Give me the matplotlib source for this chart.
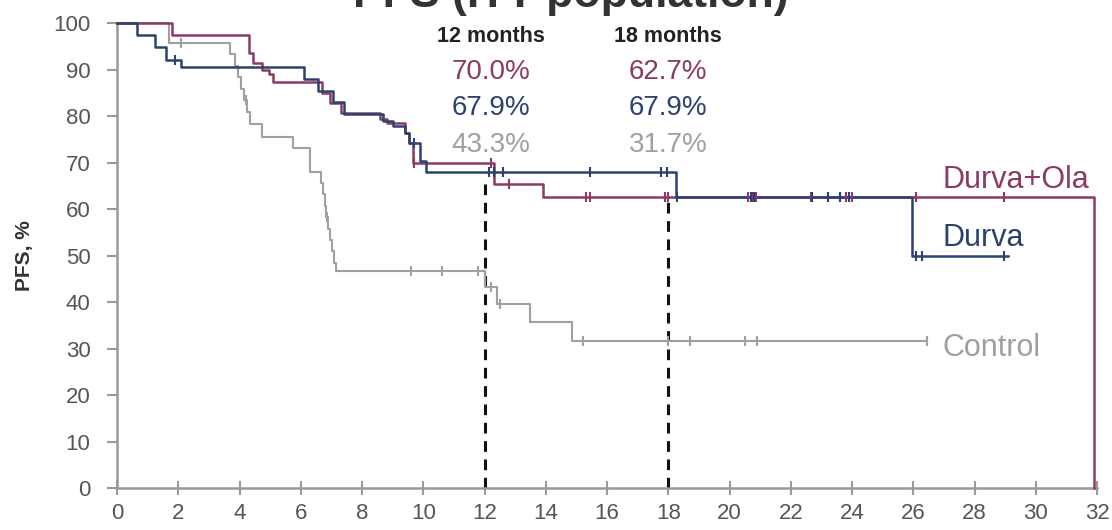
"""Kaplan-Meier style PFS plot: Durva+Ola vs Durva vs Control."""
import matplotlib
matplotlib.use("Agg")
import matplotlib.pyplot as plt
import numpy as np

# Step curves: time of each step (months) and PFS (%) after the step
ola_times = [0, 1.8, 4.32, 4.45, 4.75, 4.95, 5.1, 6.7, 6.95, 7.3, 8.6, 8.8, 9.4, 9.55, 9.65, 12.3, 13.9, 31.9]
ola_surv = [100, 97.5, 93.6, 91.5, 90.0, 89.0, 87.3, 85.0, 82.8, 80.6, 79.5, 78.5, 76.5, 74.2, 70.0, 65.5, 62.7, 0]
ola_end = 31.9
ola_cens = [9.7, 12.2, 12.8, 15.3, 15.45, 17.9, 18.0, 20.6, 20.75, 20.85, 22.65, 23.2, 23.6, 23.8, 24.0, 26.1, 28.95]

durva_times = [0, 0.65, 1.25, 1.6, 2.1, 6.1, 6.55, 7.05, 7.4, 8.7, 9.0, 9.4, 9.55, 9.9, 10.1, 18.25, 25.95]
durva_surv = [100, 97.4, 94.8, 92.2, 90.5, 88.0, 85.5, 83.0, 80.5, 79.0, 78.0, 76.5, 74.2, 70.3, 67.9, 62.7, 50.0]
durva_end = 29.1
durva_cens = [1.9, 9.7, 12.15, 12.3, 12.6, 15.45, 17.75, 17.95, 18.3, 20.7, 20.8, 22.7, 23.2, 23.6, 23.9, 26.1, 26.3, 28.95]

ctrl_times = [0, 1.7, 3.7, 3.85, 3.95, 4.05, 4.15, 4.25, 4.35, 4.75, 5.75, 6.3, 6.65, 6.72, 6.78, 6.84, 6.9,
              6.96, 7.02, 7.08, 7.15, 12.0, 12.4, 13.5, 14.85]
ctrl_surv = [100, 95.7, 93.3, 90.8, 88.4, 85.9, 83.5, 81.0, 78.3, 75.6, 73.1, 68.1, 65.6, 63.2, 60.7, 58.3, 55.8,
             53.4, 50.9, 48.5, 46.6, 43.3, 39.6, 35.8, 31.7]
ctrl_end = 26.45
ctrl_cens = [2.1, 4.2, 6.85, 9.6, 10.6, 11.8, 12.2, 12.5, 15.2, 18.0, 18.7, 20.5, 20.9, 26.45]

# Landmark rates
landmarks = [12, 18]
landmark_labels = ['12 months', '18 months']
ola_rates = ['70.0%', '62.7%']
durva_rates = ['67.9%', '67.9%']
ctrl_rates = ['43.3%', '31.7%']
landmark_tops = [66, 62]

arm_names = ['Durva+Ola', 'Durva', 'Control']
ola_color = '#8a3a64'
durva_color = '#2c426e'
ctrl_color = '#a0a0a0'

arial = ['Liberation Sans', 'DejaVu Sans']
plt.rcParams['font.family'] = arial


def draw_arm(ax, times, surv, end, cens, color, lw):
    x = list(times) + [end]
    y = list(surv) + [surv[-1]]
    ax.step(x, y, where='post', color=color, linewidth=lw, clip_on=False, zorder=3)
    # censor ticks sit on the curve value at that time
    idx = np.searchsorted(times, cens, side='right') - 1
    cy = np.array(surv)[idx]
    ax.plot(cens, cy, linestyle='none', marker='|', markersize=7, markeredgewidth=1.5,
            color=color, clip_on=False, zorder=4)


fig = plt.figure(figsize=(11.12, 5.30), dpi=100)
ax = fig.add_axes([117 / 1112, 42 / 530, 980 / 1112, 464.7 / 530])

# Landmark dashed lines
for lm, top in zip(landmarks, landmark_tops):
    ax.plot([lm, lm], [0, top], color='#111111', linewidth=2.2, linestyle=(0, (3.5, 2.5)), zorder=2)

draw_arm(ax, ctrl_times, ctrl_surv, ctrl_end, ctrl_cens, ctrl_color, 1.5)
draw_arm(ax, ola_times, ola_surv, ola_end, ola_cens, ola_color, 1.8)
draw_arm(ax, durva_times, durva_surv, durva_end, durva_cens, durva_color, 1.8)

# Landmark text block
for lm, lab, r1, r2, r3 in zip(landmarks, landmark_labels, ola_rates, durva_rates, ctrl_rates):
    xc = lm + 0.2 if lm == 12 else lm
    ax.text(xc, 97.1, lab, ha='center', va='center', fontsize=15.5, fontweight='bold',
            color='#222222')
    ax.text(xc, 89.6, r1, ha='center', va='center', fontsize=20, color=ola_color)
    ax.text(xc, 81.8, r2, ha='center', va='center', fontsize=20, color=durva_color)
    ax.text(xc, 73.8, r3, ha='center', va='center', fontsize=20, color=ctrl_color)

# Arm labels at right end
ax.text(26.95, 66.3, arm_names[0], ha='left', va='center', fontsize=22, color=ola_color)
ax.text(26.95, 53.8, arm_names[1], ha='left', va='center', fontsize=22, color=durva_color)
ax.text(26.95, 30.1, arm_names[2], ha='left', va='center', fontsize=22, color=ctrl_color)

# Axes setup
ax.set_xlim(0, 32)
ax.set_ylim(0, 100)
ax.set_xticks(range(0, 33, 2))
ax.set_yticks(range(0, 101, 10))
for s in ['top', 'right']:
    ax.spines[s].set_visible(False)
for s in ['left', 'bottom']:
    ax.spines[s].set_color('#9a9a9a')
    ax.spines[s].set_linewidth(1.8)
ax.tick_params(axis='x', direction='inout', length=10, width=1.5, color='#9a9a9a', pad=6,
               labelsize=16, labelcolor='#555555')
ax.tick_params(axis='y', direction='out', length=7, width=1.5, color='#9a9a9a', pad=12,
               labelsize=16, labelcolor='#555555')

ax.set_ylabel('PFS, %', fontsize=15, fontweight='bold', color='#333333', labelpad=14)

# Title, mostly cut off by the top edge as in the source slide
fig.text(0.513, 1 - 7 / 530, 'PFS (ITT population)', ha='center', va='baseline',
         fontsize=32, fontweight='bold', color='#333333')

fig.savefig('out.png', dpi=100)
